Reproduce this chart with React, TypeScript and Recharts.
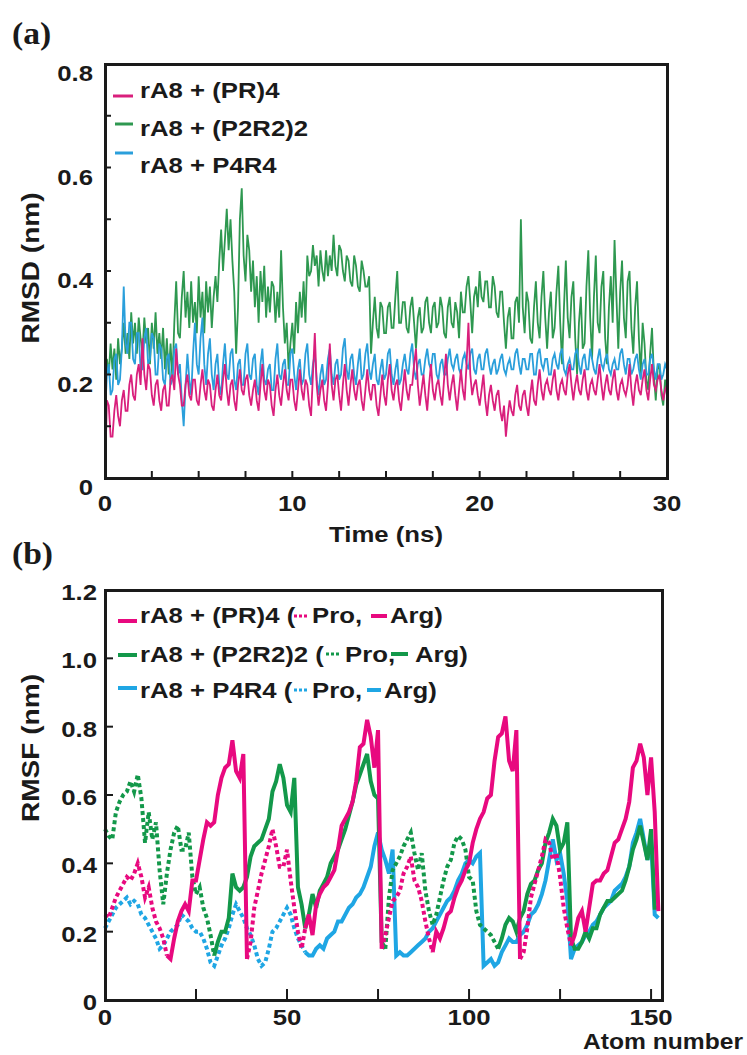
import React from 'react';
import { LineChart, Line, XAxis, YAxis } from 'recharts';

// ---- panel (a): RMSD vs time, one sample every 0.1 ns (one row = 1 ns) ----
const timeStepNs = 0.1;

const rmsdPR4 = [
  0.00, 0.15, 0.14, 0.08, 0.08, 0.13, 0.16, 0.12, 0.10, 0.15,
  0.17, 0.13, 0.13, 0.18, 0.20, 0.16, 0.15, 0.20, 0.22, 0.18,
  0.27, 0.20, 0.17, 0.22, 0.21, 0.16, 0.14, 0.18, 0.19, 0.15,
  0.13, 0.17, 0.18, 0.14, 0.14, 0.19, 0.20, 0.17, 0.25, 0.20,
  0.18, 0.14, 0.14, 0.18, 0.20, 0.16, 0.15, 0.19, 0.19, 0.15,
  0.14, 0.18, 0.21, 0.17, 0.15, 0.19, 0.18, 0.14, 0.13, 0.17,
  0.20, 0.16, 0.15, 0.19, 0.22, 0.17, 0.14, 0.18, 0.19, 0.15,
  0.13, 0.18, 0.21, 0.17, 0.16, 0.19, 0.20, 0.16, 0.14, 0.17,
  0.19, 0.15, 0.13, 0.18, 0.22, 0.17, 0.15, 0.19, 0.18, 0.14,
  0.12, 0.17, 0.20, 0.16, 0.14, 0.18, 0.21, 0.17, 0.15, 0.19,
  0.19, 0.15, 0.13, 0.17, 0.21, 0.17, 0.15, 0.19, 0.18, 0.14,
  0.12, 0.20, 0.28, 0.18, 0.14, 0.17, 0.19, 0.15, 0.13, 0.18,
  0.26, 0.18, 0.15, 0.19, 0.20, 0.16, 0.13, 0.18, 0.22, 0.17,
  0.14, 0.18, 0.21, 0.17, 0.15, 0.18, 0.19, 0.15, 0.13, 0.17,
  0.21, 0.17, 0.15, 0.18, 0.18, 0.14, 0.12, 0.16, 0.20, 0.16,
  0.14, 0.19, 0.22, 0.17, 0.15, 0.18, 0.19, 0.15, 0.13, 0.17,
  0.21, 0.17, 0.15, 0.18, 0.18, 0.22, 0.25, 0.18, 0.14, 0.17,
  0.20, 0.16, 0.13, 0.18, 0.22, 0.17, 0.15, 0.18, 0.19, 0.16,
  0.14, 0.19, 0.24, 0.18, 0.15, 0.18, 0.20, 0.16, 0.13, 0.17,
  0.21, 0.17, 0.15, 0.22, 0.30, 0.20, 0.16, 0.18, 0.19, 0.16,
  0.14, 0.17, 0.20, 0.15, 0.12, 0.16, 0.18, 0.15, 0.13, 0.16,
  0.17, 0.13, 0.11, 0.14, 0.08, 0.12, 0.15, 0.13, 0.12, 0.16,
  0.18, 0.14, 0.13, 0.16, 0.17, 0.14, 0.12, 0.16, 0.19, 0.15,
  0.14, 0.18, 0.21, 0.17, 0.15, 0.18, 0.19, 0.17, 0.16, 0.19,
  0.21, 0.17, 0.15, 0.18, 0.19, 0.17, 0.16, 0.20, 0.22, 0.18,
  0.15, 0.18, 0.20, 0.17, 0.16, 0.19, 0.21, 0.17, 0.15, 0.18,
  0.19, 0.17, 0.16, 0.19, 0.22, 0.18, 0.15, 0.18, 0.20, 0.17,
  0.16, 0.19, 0.21, 0.17, 0.15, 0.18, 0.19, 0.17, 0.16, 0.18,
  0.22, 0.17, 0.14, 0.18, 0.20, 0.17, 0.16, 0.19, 0.21, 0.17,
  0.15, 0.19, 0.22, 0.18, 0.17, 0.19, 0.20, 0.17, 0.15, 0.17,
  0.18,
];

const rmsdP2R2 = [
  0.18, 0.23, 0.20, 0.26, 0.21, 0.25, 0.19, 0.27, 0.22, 0.25,
  0.30, 0.24, 0.28, 0.23, 0.32, 0.26, 0.30, 0.24, 0.31, 0.27,
  0.24, 0.31, 0.26, 0.29, 0.22, 0.30, 0.25, 0.32, 0.24, 0.28,
  0.23, 0.29, 0.21, 0.27, 0.20, 0.26, 0.19, 0.30, 0.38, 0.28,
  0.27, 0.35, 0.40, 0.31, 0.36, 0.29, 0.38, 0.30, 0.34, 0.28,
  0.39, 0.31, 0.36, 0.28, 0.38, 0.32, 0.37, 0.29, 0.35, 0.39,
  0.34, 0.42, 0.48, 0.40, 0.46, 0.52, 0.44, 0.50, 0.42, 0.36,
  0.24, 0.33, 0.50, 0.56, 0.43, 0.38, 0.47, 0.44, 0.36, 0.42,
  0.33, 0.39, 0.30, 0.40, 0.34, 0.41, 0.31, 0.37, 0.32, 0.38,
  0.37, 0.30, 0.36, 0.31, 0.44, 0.33, 0.26, 0.30, 0.21, 0.26,
  0.30, 0.24, 0.34, 0.28, 0.36, 0.31, 0.38, 0.30, 0.43, 0.39,
  0.40, 0.45, 0.41, 0.43, 0.37, 0.44, 0.40, 0.38, 0.44, 0.39,
  0.43, 0.40, 0.47, 0.41, 0.39, 0.45, 0.44, 0.40, 0.38, 0.43,
  0.42, 0.38, 0.37, 0.43, 0.41, 0.37, 0.36, 0.42, 0.40, 0.37,
  0.37, 0.39, 0.24, 0.30, 0.35, 0.29, 0.27, 0.34, 0.33, 0.28,
  0.28, 0.33, 0.34, 0.29, 0.29, 0.35, 0.40, 0.30, 0.30, 0.34,
  0.34, 0.29, 0.28, 0.33, 0.35, 0.30, 0.25, 0.31, 0.33, 0.28,
  0.29, 0.34, 0.35, 0.30, 0.28, 0.33, 0.34, 0.29, 0.30, 0.35,
  0.33, 0.28, 0.27, 0.33, 0.35, 0.30, 0.29, 0.34, 0.32, 0.27,
  0.36, 0.32, 0.32, 0.37, 0.39, 0.34, 0.28, 0.35, 0.37, 0.33,
  0.40, 0.35, 0.34, 0.38, 0.38, 0.33, 0.33, 0.39, 0.37, 0.32,
  0.31, 0.36, 0.36, 0.30, 0.25, 0.31, 0.33, 0.27, 0.27, 0.34,
  0.35, 0.30, 0.50, 0.33, 0.28, 0.36, 0.34, 0.27, 0.26, 0.33,
  0.38, 0.30, 0.27, 0.35, 0.40, 0.31, 0.25, 0.32, 0.36, 0.27,
  0.29, 0.36, 0.41, 0.30, 0.22, 0.33, 0.42, 0.31, 0.27, 0.35,
  0.38, 0.27, 0.20, 0.30, 0.35, 0.25, 0.26, 0.37, 0.44, 0.31,
  0.23, 0.35, 0.43, 0.30, 0.28, 0.37, 0.40, 0.27, 0.22, 0.33,
  0.39, 0.30, 0.46, 0.35, 0.25, 0.36, 0.42, 0.31, 0.27, 0.38,
  0.40, 0.29, 0.24, 0.33, 0.38, 0.27, 0.20, 0.30, 0.26, 0.19,
  0.17, 0.24, 0.29, 0.20, 0.15, 0.21, 0.22, 0.16, 0.14, 0.19,
  0.16,
];

const rmsdP4R4 = [
  0.12, 0.20, 0.22, 0.16, 0.17, 0.23, 0.24, 0.18, 0.19, 0.25,
  0.37, 0.26, 0.24, 0.30, 0.30, 0.23, 0.22, 0.28, 0.28, 0.21,
  0.21, 0.27, 0.29, 0.22, 0.23, 0.28, 0.27, 0.20, 0.20, 0.26,
  0.25, 0.19, 0.18, 0.23, 0.24, 0.18, 0.19, 0.25, 0.26, 0.20,
  0.22, 0.15, 0.10, 0.18, 0.24, 0.19, 0.16, 0.24, 0.30, 0.22,
  0.20, 0.27, 0.31, 0.22, 0.18, 0.24, 0.27, 0.20, 0.17, 0.22,
  0.24, 0.18, 0.16, 0.22, 0.26, 0.20, 0.19, 0.24, 0.25, 0.19,
  0.17, 0.22, 0.23, 0.18, 0.18, 0.24, 0.26, 0.20, 0.19, 0.23,
  0.24, 0.18, 0.16, 0.22, 0.25, 0.19, 0.18, 0.21, 0.22, 0.17,
  0.17, 0.23, 0.26, 0.20, 0.19, 0.22, 0.23, 0.18, 0.18, 0.24,
  0.25, 0.20, 0.17, 0.21, 0.23, 0.18, 0.19, 0.24, 0.26, 0.20,
  0.18, 0.22, 0.24, 0.19, 0.16, 0.20, 0.22, 0.18, 0.19, 0.23,
  0.25, 0.20, 0.18, 0.22, 0.23, 0.19, 0.20, 0.25, 0.27, 0.21,
  0.19, 0.23, 0.24, 0.20, 0.18, 0.22, 0.25, 0.19, 0.20, 0.24,
  0.26, 0.21, 0.19, 0.22, 0.24, 0.19, 0.18, 0.21, 0.23, 0.19,
  0.20, 0.24, 0.25, 0.20, 0.18, 0.21, 0.23, 0.18, 0.19, 0.22,
  0.24, 0.21, 0.20, 0.24, 0.26, 0.21, 0.19, 0.22, 0.23, 0.20,
  0.20, 0.23, 0.25, 0.22, 0.21, 0.24, 0.24, 0.20, 0.19, 0.22,
  0.23, 0.20, 0.20, 0.23, 0.25, 0.22, 0.21, 0.23, 0.24, 0.21,
  0.20, 0.23, 0.24, 0.22, 0.21, 0.24, 0.25, 0.21, 0.20, 0.23,
  0.24, 0.21, 0.21, 0.24, 0.25, 0.22, 0.20, 0.22, 0.23, 0.20,
  0.21, 0.23, 0.24, 0.21, 0.20, 0.22, 0.23, 0.21, 0.21, 0.24,
  0.25, 0.22, 0.20, 0.23, 0.23, 0.21, 0.21, 0.24, 0.24, 0.20,
  0.20, 0.24, 0.25, 0.22, 0.21, 0.23, 0.23, 0.20, 0.20, 0.23,
  0.24, 0.22, 0.21, 0.24, 0.25, 0.21, 0.20, 0.22, 0.23, 0.21,
  0.21, 0.24, 0.25, 0.22, 0.20, 0.23, 0.24, 0.21, 0.21, 0.25,
  0.23, 0.21, 0.20, 0.23, 0.25, 0.22, 0.21, 0.23, 0.24, 0.21,
  0.20, 0.22, 0.23, 0.21, 0.21, 0.24, 0.25, 0.22, 0.20, 0.23,
  0.23, 0.20, 0.21, 0.23, 0.24, 0.21, 0.19, 0.22, 0.23, 0.20,
  0.20, 0.23, 0.24, 0.21, 0.19, 0.22, 0.22, 0.19, 0.20, 0.22,
  0.21,
];

const timeTicks = [0, 2.5, 5, 7.5, 10, 12.5, 15, 17.5, 20, 22.5, 25, 27.5, 30];
const rmsdTicks = [0, 0.1, 0.2, 0.3, 0.4, 0.5, 0.6, 0.7, 0.8];

// ---- panel (b): RMSF per atom (atom 0..152) ----
const rmsfPR4 = [
  0.25, 0.24, 0.27, 0.30, 0.32, 0.34, 0.36, 0.35, 0.37, 0.40,
  0.36, 0.30, 0.33, 0.27, 0.23, 0.21, 0.18, 0.13, 0.12, 0.18,
  0.23, 0.26, 0.28, 0.26, 0.35, 0.35, 0.41, 0.47, 0.52, 0.51,
  0.52, 0.60, 0.65, 0.68, 0.69, 0.76, 0.67, 0.65, 0.72, 0.12,
  0.17, 0.27, 0.32, 0.37, 0.41, 0.45, 0.50, 0.45, 0.39, 0.39,
  0.44, 0.35, 0.27, 0.20, 0.15, 0.21, 0.25, 0.19, 0.28, 0.31,
  0.33, 0.34, 0.36, 0.38, 0.44, 0.51, 0.53, 0.55, 0.58, 0.64,
  0.74, 0.75, 0.82, 0.77, 0.68, 0.79, 0.15, 0.19, 0.24, 0.29,
  0.30, 0.32, 0.37, 0.39, 0.42, 0.35, 0.33, 0.29, 0.23, 0.18,
  0.14, 0.20, 0.18, 0.21, 0.25, 0.26, 0.30, 0.33, 0.35, 0.38,
  0.40, 0.46, 0.50, 0.53, 0.55, 0.59, 0.60, 0.70, 0.77, 0.78,
  0.83, 0.70, 0.67, 0.79, 0.12, 0.14, 0.21, 0.30, 0.34, 0.38,
  0.42, 0.47, 0.46, 0.41, 0.43, 0.36, 0.27, 0.21, 0.16, 0.19,
  0.24, 0.26, 0.20, 0.27, 0.34, 0.35, 0.35, 0.37, 0.38, 0.42,
  0.46, 0.47, 0.50, 0.53, 0.58, 0.68, 0.70, 0.75, 0.71, 0.60,
  0.71, 0.55, 0.26,
];

const rmsfP2R2 = [
  0.50, 0.48, 0.47, 0.55, 0.58, 0.60, 0.61, 0.64, 0.61, 0.66,
  0.59, 0.46, 0.55, 0.47, 0.52, 0.38, 0.28, 0.37, 0.44, 0.49,
  0.51, 0.44, 0.44, 0.49, 0.36, 0.31, 0.33, 0.27, 0.24, 0.19,
  0.13, 0.17, 0.20, 0.20, 0.24, 0.37, 0.33, 0.32, 0.33, 0.36,
  0.42, 0.45, 0.46, 0.47, 0.50, 0.53, 0.61, 0.64, 0.69, 0.65,
  0.57, 0.55, 0.65, 0.33, 0.28, 0.21, 0.25, 0.31, 0.27, 0.32,
  0.34, 0.36, 0.40, 0.42, 0.44, 0.47, 0.50, 0.54, 0.58, 0.63,
  0.66, 0.69, 0.72, 0.64, 0.60, 0.59, 0.17, 0.15, 0.30, 0.38,
  0.40, 0.42, 0.45, 0.47, 0.49, 0.43, 0.38, 0.43, 0.32, 0.26,
  0.22, 0.25, 0.30, 0.35, 0.39, 0.41, 0.46, 0.48, 0.47, 0.44,
  0.36, 0.35, 0.26, 0.22, 0.21, 0.20, 0.19, 0.17, 0.15, 0.18,
  0.22, 0.24, 0.23, 0.20, 0.24, 0.26, 0.31, 0.34, 0.35, 0.38,
  0.40, 0.46, 0.49, 0.53, 0.51, 0.44, 0.46, 0.52, 0.18, 0.15,
  0.15, 0.17, 0.20, 0.18, 0.21, 0.21, 0.25, 0.27, 0.29, 0.29,
  0.30, 0.31, 0.32, 0.35, 0.39, 0.44, 0.47, 0.51, 0.46, 0.41,
  0.50, 0.27, 0.27,
];

const rmsfP4R4 = [
  0.21, 0.23, 0.25, 0.27, 0.28, 0.29, 0.30, 0.28, 0.29, 0.28,
  0.25, 0.24, 0.22, 0.20, 0.18, 0.15, 0.16, 0.18, 0.20, 0.21,
  0.22, 0.25, 0.24, 0.23, 0.21, 0.20, 0.20, 0.18, 0.15, 0.11,
  0.10, 0.13, 0.16, 0.18, 0.21, 0.25, 0.28, 0.26, 0.24, 0.21,
  0.19, 0.16, 0.12, 0.10, 0.11, 0.15, 0.20, 0.21, 0.23, 0.25,
  0.27, 0.25, 0.21, 0.18, 0.16, 0.14, 0.13, 0.13, 0.15, 0.16,
  0.15, 0.18, 0.19, 0.20, 0.23, 0.23, 0.25, 0.27, 0.28, 0.30,
  0.31, 0.33, 0.36, 0.39, 0.45, 0.49, 0.44, 0.41, 0.37, 0.44,
  0.13, 0.14, 0.13, 0.13, 0.14, 0.15, 0.16, 0.17, 0.18, 0.20,
  0.21, 0.23, 0.25, 0.27, 0.29, 0.30, 0.32, 0.35, 0.37, 0.40,
  0.41, 0.40, 0.42, 0.43, 0.10, 0.11, 0.12, 0.10, 0.11, 0.14,
  0.16, 0.18, 0.17, 0.17, 0.19, 0.20, 0.22, 0.25, 0.26, 0.28,
  0.31, 0.35, 0.41, 0.47, 0.41, 0.43, 0.37, 0.29, 0.12, 0.15,
  0.16, 0.17, 0.19, 0.20, 0.22, 0.23, 0.25, 0.27, 0.28, 0.29,
  0.32, 0.33, 0.34, 0.36, 0.39, 0.46, 0.49, 0.53, 0.47, 0.41,
  0.47, 0.25, 0.24,
];

// atom ranges of proline (dotted) and arginine (solid) residues
const pr4ProRanges = [[0, 17], [39, 55], [76, 90], [114, 128]];
const pr4ArgRanges = [[17, 39], [55, 76], [90, 114], [128, 152]];
const p2r2ProRanges = [[0, 30], [77, 108]];
const p2r2ArgRanges = [[30, 77], [108, 152]];
const p4r4ProRanges = [[0, 55]];
const p4r4ArgRanges = [[55, 152]];

const atomTicks = [0, 25, 50, 75, 100, 125, 150];
const rmsfTicks = [0, 0.2, 0.4, 0.6, 0.8, 1.0, 1.2];

// colours
const A_PINK = '#d91f7c';
const A_GREEN = '#2e9850';
const A_BLUE = '#2a9fdb';
const B_PINK = '#e8097f';
const B_GREEN = '#13984a';
const B_BLUE = '#1fa6e4';
const INK = '#1a1a1a';

const FONT = "'Liberation Sans', Arial, sans-serif";
const STRETCH = 1.12;

const rmsdRows = rmsdPR4.map((v, i) => ({
  t: +(i * timeStepNs).toFixed(2),
  pr4: v,
  p2r2: rmsdP2R2[i],
  p4r4: rmsdP4R4[i],
}));

const inRanges = (i: number, ranges: number[][]) =>
  ranges.some(([a, b]) => i >= a && i <= b);

const rmsfRows = rmsfPR4.map((v, i) => ({
  atom: i,
  pr4Pro: inRanges(i, pr4ProRanges) ? v : null,
  pr4Arg: inRanges(i, pr4ArgRanges) ? v : null,
  p2r2Pro: inRanges(i, p2r2ProRanges) ? rmsfP2R2[i] : null,
  p2r2Arg: inRanges(i, p2r2ArgRanges) ? rmsfP2R2[i] : null,
  p4r4Pro: inRanges(i, p4r4ProRanges) ? rmsfP4R4[i] : null,
  p4r4Arg: inRanges(i, p4r4ArgRanges) ? rmsfP4R4[i] : null,
}));

const fmt = (v: number) => (v === 0 ? '0' : v.toFixed(1));
const near = (v: number, step: number) => Math.abs(v / step - Math.round(v / step)) < 1e-6;

// custom ticks: an inward tick mark on every tick, a label on the major ones.
// tickSize/tickMargin cancel out so (x, y) handed in sits on the axis itself.
const makeYTick = (isMajor: (v: number) => boolean, len: number, dx: number, dy: number) =>
  (props: any) => {
    const { x, y, payload } = props;
    return (
      <g>
        <line x1={x} x2={x + len} y1={y} y2={y} stroke={INK} strokeWidth={2} />
        {isMajor(payload.value) && (
          <g transform={`translate(${x - dx},${y + dy}) scale(${STRETCH},1)`}>
            <text x={0} y={0} textAnchor="end" fontFamily={FONT} fontWeight={700} fontSize={23} fill={INK}>
              {fmt(payload.value)}
            </text>
          </g>
        )}
      </g>
    );
  };

const makeXTick = (isMajor: (v: number) => boolean, len: number, dy: number) =>
  (props: any) => {
    const { x, y, payload } = props;
    return (
      <g>
        <line x1={x} x2={x} y1={y} y2={y - len} stroke={INK} strokeWidth={2} />
        {isMajor(payload.value) && (
          <g transform={`translate(${x},${y + dy}) scale(${STRETCH},1)`}>
            <text x={0} y={0} textAnchor="middle" fontFamily={FONT} fontWeight={700} fontSize={23} fill={INK}>
              {payload.value}
            </text>
          </g>
        )}
      </g>
    );
  };

const Txt = ({ x, y, children, anchor = 'start', rotate = 0, size = 23, serif = false, sx = STRETCH }: any) => (
  <g transform={`translate(${x},${y}) rotate(${rotate}) scale(${serif ? 1.05 : sx},1)`}>
    <text
      x={0}
      y={0}
      textAnchor={anchor}
      fontFamily={serif ? "'Liberation Serif', 'Times New Roman', serif" : FONT}
      fontWeight={700}
      fontSize={size}
      fill={INK}
    >
      {children}
    </text>
  </g>
);

const Mark = ({ x1, x2, y, color, dotted = false, w = 4 }: any) => (
  <line x1={x1} x2={x2} y1={y} y2={y} stroke={color} strokeWidth={w} strokeDasharray={dotted ? '3 2' : undefined} />
);

const App = () => {
  return (
    <div style={{ position: 'absolute', left: 0, top: 0, width: 747, height: 1055, background: '#fff' }}>
      {/* panel (a) */}
      <div style={{ position: 'absolute', left: 0, top: 0 }}>
        <LineChart width={747} height={530} data={rmsdRows} margin={{ top: 64, right: 80, bottom: 51, left: 104 }}>
          <XAxis
            dataKey="t"
            type="number"
            domain={[0, 30]}
            ticks={timeTicks}
            interval={0}
            height={1}
            axisLine={false}
            tickLine={false}
            tickSize={-7}
            tickMargin={7}
            tick={makeXTick((v) => near(v, 10), 7, 33)}
          />
          <YAxis
            type="number"
            domain={[0, 0.8]}
            ticks={rmsdTicks}
            interval={0}
            width={1}
            axisLine={false}
            tickLine={false}
            tickSize={-6}
            tickMargin={6}
            tick={makeYTick((v) => near(v, 0.2), 6, 12, 17)}
          />
          <Line dataKey="p2r2" stroke={A_GREEN} strokeWidth={1.8} dot={false} isAnimationActive={false} />
          <Line dataKey="p4r4" stroke={A_BLUE} strokeWidth={1.8} dot={false} isAnimationActive={false} />
          <Line dataKey="pr4" stroke={A_PINK} strokeWidth={1.8} dot={false} isAnimationActive={false} />
        </LineChart>
      </div>
      <div
        style={{
          position: 'absolute',
          left: 103.5,
          top: 62.5,
          width: 565,
          height: 417.5,
          boxSizing: 'border-box',
          border: `3px solid ${INK}`,
          pointerEvents: 'none',
        }}
      />

      {/* panel (b) */}
      <div style={{ position: 'absolute', left: 0, top: 530 }}>
        <LineChart width={747} height={525} data={rmsfRows} margin={{ top: 60, right: 85, bottom: 54, left: 104 }}>
          <XAxis
            dataKey="atom"
            type="number"
            domain={[0, 153]}
            ticks={atomTicks}
            interval={0}
            height={1}
            axisLine={false}
            tickLine={false}
            tickSize={-10}
            tickMargin={10}
            tick={makeXTick((v) => near(v, 50), 11, 25)}
          />
          <YAxis
            type="number"
            domain={[0, 1.2]}
            ticks={rmsfTicks}
            interval={0}
            width={1}
            axisLine={false}
            tickLine={false}
            tickSize={-8}
            tickMargin={8}
            tick={makeYTick(() => true, 8, 8, 10)}
          />
          <Line dataKey="p4r4Pro" stroke={B_BLUE} strokeWidth={4} strokeDasharray="4 3" dot={false} isAnimationActive={false} />
          <Line dataKey="p4r4Arg" stroke={B_BLUE} strokeWidth={4} dot={false} isAnimationActive={false} />
          <Line dataKey="p2r2Pro" stroke={B_GREEN} strokeWidth={4} strokeDasharray="4 3" dot={false} isAnimationActive={false} />
          <Line dataKey="p2r2Arg" stroke={B_GREEN} strokeWidth={4} dot={false} isAnimationActive={false} />
          <Line dataKey="pr4Pro" stroke={B_PINK} strokeWidth={4} strokeDasharray="4 3" dot={false} isAnimationActive={false} />
          <Line dataKey="pr4Arg" stroke={B_PINK} strokeWidth={4} dot={false} isAnimationActive={false} />
        </LineChart>
      </div>
      <div
        style={{
          position: 'absolute',
          left: 103.5,
          top: 588.5,
          width: 560,
          height: 413,
          boxSizing: 'border-box',
          border: `3px solid ${INK}`,
          pointerEvents: 'none',
        }}
      />

      {/* labels and legends */}
      <svg width={747} height={1055} style={{ position: 'absolute', left: 0, top: 0, pointerEvents: 'none' }}>
        <Txt x={12} y={44} size={32} serif>(a)</Txt>
        <Txt x={12} y={564} size={32} serif>(b)</Txt>

        <Txt x={39} y={268} rotate={-90} anchor="middle" sx={1.22}>RMSD (nm)</Txt>
        <Txt x={386} y={542} anchor="middle">Time (ns)</Txt>

        <Mark x1={113} x2={133} y={96} color={A_PINK} w={3} />
        <Txt x={140} y={98}>rA8 + (PR)4</Txt>
        <Mark x1={115} x2={133} y={124} color={A_GREEN} w={3} />
        <Txt x={140} y={136}>rA8 + (P2R2)2</Txt>
        <Mark x1={115} x2={133} y={153} color={A_BLUE} w={3} />
        <Txt x={140} y={173}>rA8 + P4R4</Txt>

        <Txt x={39} y={748} rotate={-90} anchor="middle" sx={1.22}>RMSF (nm)</Txt>
        <Txt x={743} y={1049} anchor="end" size={22} sx={1.12}>Atom number</Txt>

        <Mark x1={118} x2={137} y={621} color={B_PINK} />
        <Txt x={140} y={623}>rA8 + (PR)4 (</Txt>
        <Mark x1={294} x2={308} y={616} color={B_PINK} dotted w={3} />
        <Txt x={312} y={623}>Pro,</Txt>
        <Mark x1={371} x2={387} y={616} color={B_PINK} w={4} />
        <Txt x={390} y={623}>Arg)</Txt>

        <Mark x1={118} x2={137} y={655} color={B_GREEN} />
        <Txt x={140} y={662}>rA8 + (P2R2)2 (</Txt>
        <Mark x1={326} x2={341} y={654} color={B_GREEN} dotted w={3} />
        <Txt x={345} y={662}>Pro,</Txt>
        <Mark x1={391} x2={408} y={654} color={B_GREEN} w={4} />
        <Txt x={415} y={662}>Arg)</Txt>

        <Mark x1={118} x2={137} y={688} color={B_BLUE} />
        <Txt x={140} y={698}>rA8 + P4R4 (</Txt>
        <Mark x1={294} x2={308} y={690} color={B_BLUE} dotted w={3} />
        <Txt x={312} y={698}>Pro,</Txt>
        <Mark x1={367} x2={381} y={690} color={B_BLUE} w={4} />
        <Txt x={384} y={698}>Arg)</Txt>
      </svg>
    </div>
  );
};

export default App;
